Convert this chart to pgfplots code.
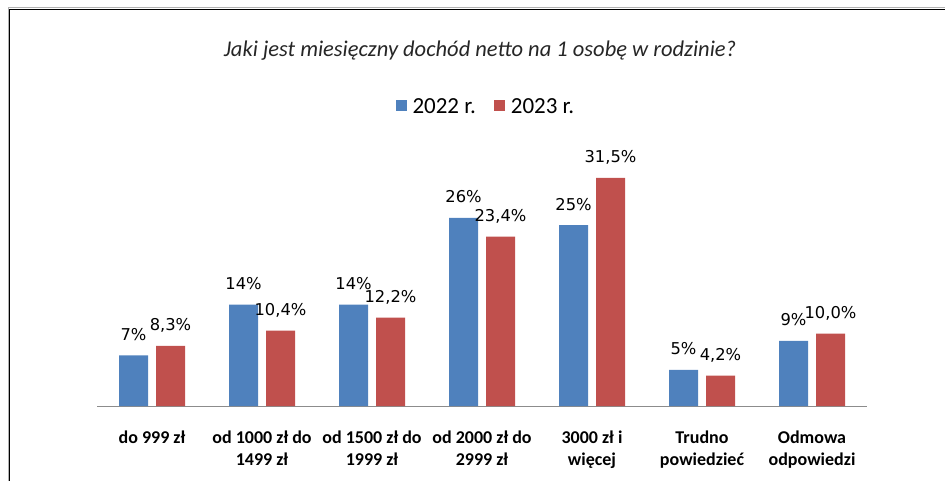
\documentclass[border=0pt]{standalone}
\usepackage{pgfplots}
\pgfplotsset{compat=1.18}
\usepackage{fontspec}
\setmainfont{Carlito}
\newfontfamily\dejavu{DejaVu Sans}
\definecolor{b22}{RGB}{79,129,189}
\definecolor{r23}{RGB}{192,80,77}
\begin{document}
\begin{tikzpicture}[x=1pt,y=1pt]
\path[use as bounding box] (0,0) rectangle (945,480);
\draw[line width=0.8pt, gray!60] (8,-5) -- (8,472.5) -- (950,472.5);
\draw[line width=1.1pt, black] (9.5,-5) -- (9.5,470.5) -- (950,470.5);
\node[font=\fontsize{22.5}{26}\selectfont\itshape, text=black!85] at (480,429) {Jaki jest miesięczny dochód netto na 1 osobę w rodzinie?};
\begin{axis}[
  at={(97pt,74pt)}, anchor=south west,
  scale only axis, width=770pt, height=253.4pt,
  xmin=-0.5, xmax=6.5, ymin=0, ymax=35,
  axis y line=none, axis x line=bottom,
  x axis line style={-, draw=gray!90, line width=0.9pt},
  xtick={0,...,6}, major tick length=0pt,
  xticklabels={do 999 zł, {od 1000 zł do\\1499 zł}, {od 1500 zł do\\1999 zł}, {od 2000 zł do\\2999 zł}, {3000 zł i\\więcej}, {Trudno\\powiedzieć}, {Odmowa\\odpowiedzi}},
  xticklabel style={align=center, font=\bfseries\fontsize{18}{22.5}\selectfont, anchor=north, yshift=-21pt},
  ybar=8pt, bar width=29pt,
  /pgf/number format/assume math mode=true,
  every node near coord/.append style={font=\dejavu\fontsize{16.3}{18}\selectfont, anchor=base, yshift=15pt, text=black},
  legend style={at={(0.505,1.18)}, anchor=center, draw=none, fill=none, legend columns=2,
    font=\fontsize{23}{26}\selectfont,
    /tikz/every odd column/.append style={column sep=4pt},
    /tikz/every even column/.append style={column sep=16pt}},
  legend image code/.code={\fill[#1] (0pt,-4pt) rectangle (11pt,7pt);},
  clip=false,
]
\addplot[fill=b22, draw=none,
  nodes near coords={\pgfmathprintnumber[fixed,precision=0]{\pgfplotspointmeta}\%}]
  coordinates {(0,7) (1,14) (2,14) (3,26) (4,25) (5,5) (6,9)};
\addplot[fill=r23, draw=none,
  nodes near coords={\pgfmathprintnumber[fixed,fixed zerofill,precision=1,use comma]{\pgfplotspointmeta}\%}]
  coordinates {(0,8.3) (1,10.4) (2,12.2) (3,23.4) (4,31.5) (5,4.2) (6,10.0)};
\legend{2022 r., 2023 r.}
\end{axis}
\end{tikzpicture}
\end{document}
